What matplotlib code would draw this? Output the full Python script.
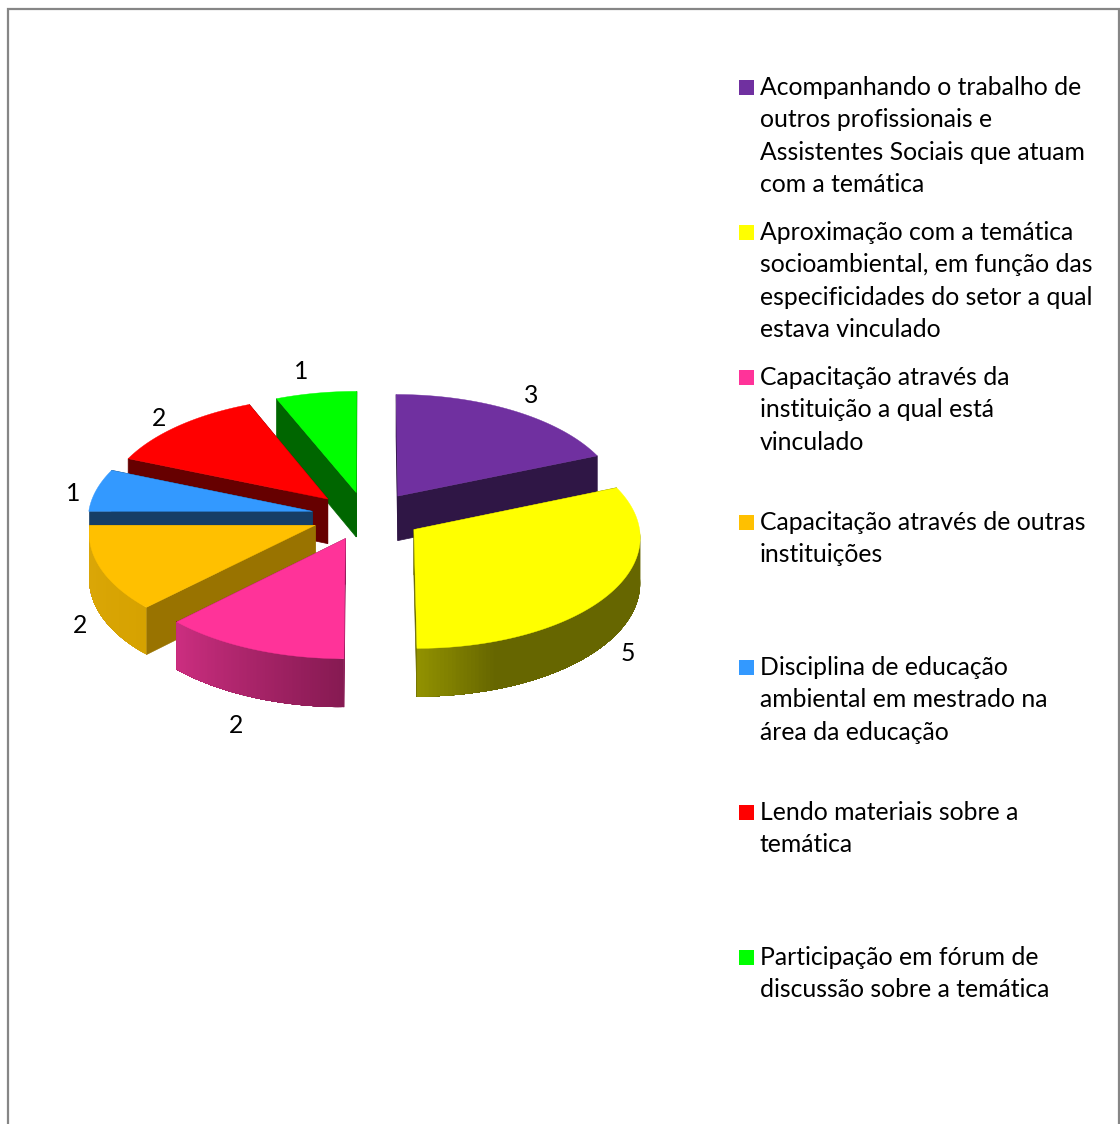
import numpy as np
import matplotlib
matplotlib.use('Agg')
import matplotlib.pyplot as plt
from matplotlib.patches import Rectangle
from matplotlib.colors import to_rgb

categorias = [
    ['Acompanhando o trabalho de', 'outros profissionais e',
     'Assistentes Sociais que atuam', 'com a temática'],
    ['Aproximação com a temática', 'socioambiental, em função das',
     'especificidades do setor a qual', 'estava vinculado'],
    ['Capacitação através da', 'instituição a qual está', 'vinculado'],
    ['Capacitação através de outras', 'instituições'],
    ['Disciplina de educação', 'ambiental em mestrado na', 'área da educação'],
    ['Lendo materiais sobre a', 'temática'],
    ['Participação em fórum de', 'discussão sobre a temática'],
]
valores = [3, 5, 2, 2, 1, 2, 1]

cores = ['#7030A0', '#FFFF00', '#FF3399', '#FFC000', '#3399FF', '#FF0000', '#00FF00']
cores_corte = ['#2F1645', '#666600', '#8B1A55', '#997300', '#163E66', '#660000', '#006600']
# sombra da lateral: (fracao do arco, cor)
cores_lateral = [
    [(0, '#2F1645'), (1, '#2F1645')],
    [(0, '#666600'), (0.83, '#666600'), (1, '#929200')],
    [(0, '#861A52'), (1, '#CC2E80')],
    [(0, '#D6A200'), (1, '#DCA80A')],
    [(0, '#163E66'), (1, '#163E66')],
    [(0, '#660000'), (1, '#660000')],
    [(0, '#006600'), (1, '#006600')],
]

# centro e raios do disco em pixels, perspectiva e altura
CX, CY = 367, 516
RX, RY = 224, 110
K = 0.06
ALTURA = 45
EXPLODE_X, EXPLODE_Y = 0.25, 0.22
# distancia dos rotulos em relacao a borda e ajuste fino de cada um
ROTULO_R = 1.13
ajuste_rotulo = [(3, -5), (-8, 4), (-3, 13), (8, 4), (5, 6), (-1, 2), (-10, -10)]


def proj(u, v, z=0):
    s = 1 / (1 - K * v)
    return CX + RX * u * s, CY + RY * v * s + z * s


def ponto(ang, r, du, dv, z=0):
    return proj(du + r * np.sin(ang), dv - r * np.cos(ang), z)


fig = plt.figure(figsize=(11.2, 11.24), dpi=100)
ax = fig.add_axes([0, 0, 1, 1])
ax.set_xlim(0, 1120)
ax.set_ylim(1124, 0)
ax.axis('off')
plt.rcParams['font.family'] = ['Lato', 'DejaVu Sans']

# moldura do grafico
ax.plot([8, 8, 1118.5, 1118.5], [1124, 8.5, 8.5, 1124], color='#868686', lw=1.6, solid_joinstyle='miter')

total = sum(valores)
fim = np.cumsum(valores) / total * 2 * np.pi
inicio = fim - np.array(valores) / total * 2 * np.pi
meio = (inicio + fim) / 2

# fatias de tras para a frente
ordem = sorted(range(len(valores)), key=lambda i: -np.cos(meio[i]))
for i in ordem:
    a0, a1 = inicio[i], fim[i]
    du, dv = EXPLODE_X * np.sin(meio[i]), -EXPLODE_Y * np.cos(meio[i])
    arco = np.linspace(a0, a1, 121)

    # faces de corte
    for a in (a0, a1):
        p = [ponto(a, 0, du, dv), ponto(a, 1, du, dv),
             ponto(a, 1, du, dv, ALTURA), ponto(a, 0, du, dv, ALTURA)]
        ax.fill(*zip(*p), color=cores_corte[i], lw=0.5, zorder=3)

    # lateral curva com degrade, so a parte da frente; cada faixa
    # cobre ate o fim do arco para nao deixar riscos entre elas
    fr = [f for f, _ in cores_lateral[i]]
    rgb = np.array([to_rgb(c) for _, c in cores_lateral[i]])
    for k, b0 in enumerate(arco[:-1]):
        b1 = arco[k + 1]
        if np.cos((b0 + b1) / 2) > 0:
            continue
        f = ((b0 + b1) / 2 - a0) / (a1 - a0)
        cor = [np.interp(f, fr, rgb[:, c]) for c in range(3)]
        resto = arco[k:]
        p = [ponto(b, 1, du, dv) for b in resto] + [ponto(b, 1, du, dv, ALTURA) for b in resto[::-1]]
        ax.fill(*zip(*p), color=cor, lw=0, zorder=3)

    # tampa
    p = [ponto(a0, 0, du, dv)] + [ponto(b, 1, du, dv) for b in arco]
    ax.fill(*zip(*p), color=cores[i], lw=0.3, zorder=3)

    # rotulo de valor
    x, y = ponto(meio[i], ROTULO_R, du, dv, ALTURA if np.cos(meio[i]) < 0 else 0)
    ax.text(x + ajuste_rotulo[i][0], y + ajuste_rotulo[i][1], str(valores[i]), fontsize=17.85,
            color='black', ha='center', va='center', zorder=5)

# legenda
LEG_Y0, LEG_DY, LINHA_DY = 87, 145, 32.4
for i, linhas in enumerate(categorias):
    y = LEG_Y0 + i * LEG_DY
    ax.add_patch(Rectangle((739, y - 7), 15, 15, facecolor=cores[i], edgecolor='none', zorder=4))
    for j, txt in enumerate(linhas):
        ax.text(760, y + 8 + j * LINHA_DY, txt, fontsize=17.85, color='black', ha='left', va='baseline', zorder=5)

fig.savefig('out.png', dpi=100)
